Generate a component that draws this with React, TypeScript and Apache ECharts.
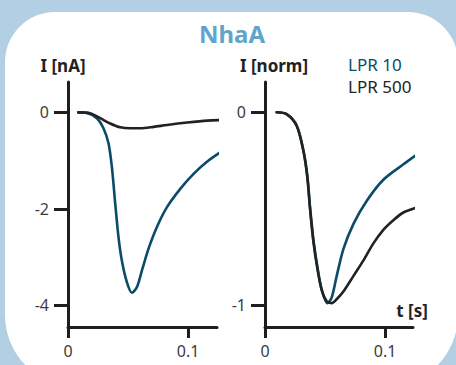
import React, { useEffect, useRef } from "react";
import * as echarts from "echarts";

// ---- data ----
const seriesNames = ["LPR 10", "LPR 500"];

// left panel: current in nA
const leftBlueT = [0.0086, 0.0156, 0.024, 0.0295, 0.0337, 0.0365, 0.0393, 0.042, 0.0448, 0.049, 0.0532, 0.0574, 0.0616, 0.0671, 0.0741, 0.0825, 0.0936, 0.1047, 0.1159, 0.1284];
const leftBlueI = [0, -0.01, -0.12, -0.33, -0.64, -1.13, -1.89, -2.58, -3.07, -3.52, -3.74, -3.62, -3.27, -2.82, -2.37, -1.96, -1.58, -1.27, -1.02, -0.8];
const leftBlackT = [0.0086, 0.0184, 0.0267, 0.0351, 0.0435, 0.0518, 0.0602, 0.0713, 0.0825, 0.0992, 0.1159, 0.1284];
const leftBlackI = [0, -0.02, -0.12, -0.23, -0.31, -0.33, -0.33, -0.3, -0.26, -0.21, -0.17, -0.16];

// right panel: normalized current
const rightBlueT = [0.0097, 0.018, 0.0264, 0.032, 0.0353, 0.0375, 0.0403, 0.0436, 0.0472, 0.052, 0.0556, 0.0597, 0.0653, 0.0736, 0.0847, 0.0986, 0.1153, 0.1286];
const rightBlueI = [0, -0.01, -0.07, -0.2, -0.33, -0.49, -0.66, -0.8, -0.92, -0.99, -0.96, -0.85, -0.71, -0.58, -0.46, -0.35, -0.27, -0.21];
const rightBlackT = [0.0097, 0.018, 0.0264, 0.032, 0.0353, 0.0375, 0.0403, 0.0436, 0.0472, 0.0514, 0.0556, 0.0597, 0.0653, 0.0736, 0.0819, 0.0903, 0.0986, 0.1069, 0.1153, 0.1286];
const rightBlackI = [0, -0.01, -0.07, -0.2, -0.34, -0.5, -0.67, -0.81, -0.92, -0.98, -0.99, -0.97, -0.93, -0.85, -0.77, -0.68, -0.61, -0.56, -0.52, -0.49];

// axis tick values
const xTicks = [0, 0.1];
const yTicksLeft = [0, -2, -4];
const yTicksRight = [0, -1];

const BLUE = "#0b4a68";
const BLACK = "#222222";
const AXIS = "#1e1e1e";
const FONT = "'Noto Sans', 'Open Sans', sans-serif";

function zip(t: number[], v: number[]) {
  return t.map((x, i) => [x, v[i]]);
}

export default function App() {
  const ref = useRef<HTMLDivElement>(null);
  useEffect(() => {
    if (!ref.current) return;
    const chart = echarts.init(ref.current, null, { renderer: "svg" });
    const axisLine = { show: true, onZero: false, lineStyle: { color: AXIS, width: 3 } };
    const tickLabel = { color: "#3c3c3c", fontSize: 16, fontFamily: FONT };
    const xAxis = (gridIndex: number) => ({
      type: "value",
      gridIndex,
      min: 0,
      max: gridIndex === 0 ? 0.124 : 0.1233,
      axisLine,
      splitLine: { show: false },
      axisTick: { show: true, length: 11, lineStyle: { color: AXIS, width: 3 }, customValues: xTicks },
      axisLabel: { ...tickLabel, margin: 16, customValues: xTicks, formatter: (v: number) => String(v) },
    });
    const yAxis = (gridIndex: number, min: number, max: number, ticks: number[]) => ({
      type: "value",
      gridIndex,
      min,
      max,
      axisLine,
      splitLine: { show: false },
      axisTick: { show: true, length: 14, lineStyle: { color: AXIS, width: 3 }, customValues: ticks },
      axisLabel: { ...tickLabel, margin: 19, customValues: ticks, formatter: (v: number) => String(v) },
    });
    const line = (name: string, color: string, x: number, data: number[][]) => ({
      type: "line",
      name,
      xAxisIndex: x,
      yAxisIndex: x,
      data,
      showSymbol: false,
      smooth: 0.3,
      clip: false,
      lineStyle: { color, width: 2.6, cap: "round", join: "round" },
      itemStyle: { color },
      z: color === BLUE ? 3 : 4,
    });
    chart.setOption({
      animation: false,
      backgroundColor: "#b2cfe3",
      graphic: [
        {
          type: "rect",
          shape: { x: 5, y: 12, width: 453, height: 375, r: [50, 50, 72, 72] },
          style: { fill: "#ffffff" },
          z: -10,
        },
        {
          type: "text",
          x: 232,
          y: 33,
          style: { text: "NhaA", fill: "#5fa5cb", font: `bold 24px ${FONT}`, align: "center", verticalAlign: "middle" },
        },
        {
          type: "text",
          x: 63,
          y: 65,
          style: { text: "I [nA]", fill: BLACK, font: `bold 17px ${FONT}`, align: "center", verticalAlign: "middle" },
        },
        {
          type: "text",
          x: 274,
          y: 65,
          style: { text: "I [norm]", fill: BLACK, font: `bold 17px ${FONT}`, align: "center", verticalAlign: "middle" },
        },
        {
          type: "text",
          x: 412,
          y: 310,
          style: { text: "t [s]", fill: BLACK, font: `bold 17px ${FONT}`, align: "center", verticalAlign: "middle" },
        },
      ],
      legend: {
        data: [
          { name: seriesNames[0], textStyle: { color: BLUE } },
          { name: seriesNames[1], textStyle: { color: BLACK } },
        ],
        orient: "vertical",
        left: 343,
        top: 56,
        icon: "none",
        itemWidth: 0,
        itemHeight: 17,
        itemGap: 5,
        padding: 0,
        selectedMode: false,
        textStyle: { fontSize: 17, fontFamily: FONT },
      },
      grid: [
        { left: 68, top: 82, width: 149, height: 245 },
        { left: 265, top: 82, width: 148, height: 245 },
      ],
      xAxis: [xAxis(0), xAxis(1)],
      yAxis: [yAxis(0, -4.45, 0.63, yTicksLeft), yAxis(1, -1.114, 0.157, yTicksRight)],
      series: [
        line(seriesNames[0], BLUE, 0, zip(leftBlueT, leftBlueI)),
        line(seriesNames[1], BLACK, 0, zip(leftBlackT, leftBlackI)),
        line(seriesNames[0], BLUE, 1, zip(rightBlueT, rightBlueI)),
        line(seriesNames[1], BLACK, 1, zip(rightBlackT, rightBlackI)),
      ],
    });
    return () => chart.dispose();
  }, []);
  return <div ref={ref} style={{ width: 456, height: 365, position: "absolute", left: 0, top: 0 }} />;
}
